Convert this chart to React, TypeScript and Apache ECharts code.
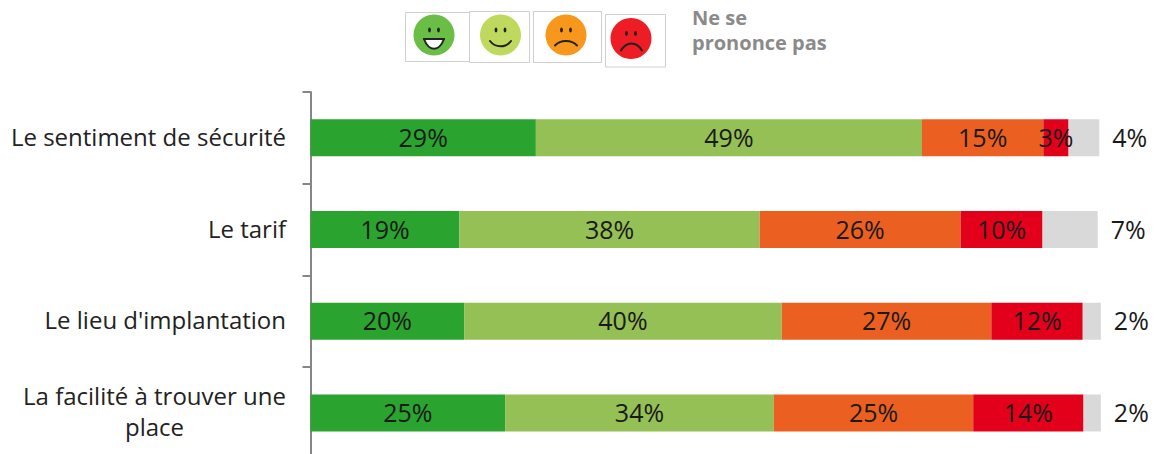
import React, { useEffect, useRef } from "react";
import * as echarts from "echarts";

const categories = ["Le sentiment de sécurité", "Le tarif", "Le lieu d'implantation", "La facilité à trouver une\nplace"];
const tresSatisfait = [28.6, 18.9, 19.5, 24.7];
const satisfait = [49.0, 38.1, 40.3, 34.1];
const peuSatisfait = [15.4, 25.5, 26.6, 25.3];
const pasSatisfait = [3.2, 10.4, 11.6, 14.0];
const neSePrononcePas = [3.9, 7.0, 2.3, 2.2];
const legendText = "Ne se\nprononce pas";

const FONT = "'Open Sans', sans-serif";
const pct = (p: any) => Math.round(p.value) + "%";

const box = (x: number, y: number, w: number, h: number) => ({
  type: "rect", shape: { x, y, width: w, height: h },
  style: { fill: "none", stroke: "#cfcfcf", lineWidth: 1 },
});
const eye = (cx: number, cy: number) => ({
  type: "ellipse", shape: { cx, cy, rx: 1.4, ry: 2.4 }, style: { fill: "#222" },
});
const face = (cx: number, cy: number, fill: string) => [
  { type: "circle", shape: { cx, cy, r: 20.5 }, style: { fill } },
  eye(cx - 4.5, cy - 5),
  eye(cx + 4.5, cy - 5),
];
const curve = (x1: number, x2: number, y: number, cpy: number, fill = "none") => ({
  type: "bezierCurve",
  shape: { x1, y1: y, x2, y2: y, cpx1: x1 + (x2 - x1) * 0.25, cpy1: cpy, cpx2: x1 + (x2 - x1) * 0.75, cpy2: cpy },
  style: { fill, stroke: "#222", lineWidth: 2, lineCap: "round" },
});

const graphics: any[] = [
  box(405.5, 12.5, 64, 49), box(469.5, 11.5, 60, 51), box(533.5, 11.5, 68, 51), box(605.5, 14.5, 60, 52.5),
  ...face(434, 35, "#6ABD45"),
  curve(424, 444, 39, 52, "#fff"),
  { type: "line", shape: { x1: 424, y1: 39, x2: 444, y2: 39 }, style: { stroke: "#222", lineWidth: 2, lineCap: "round" } },
  ...face(500.5, 35, "#BFD95F"),
  curve(490, 511, 41, 48),
  ...face(566, 35, "#F7981D"),
  curve(555, 577, 45.5, 39.5),
  ...face(631, 38.5, "#EE1C25"),
  curve(621, 642, 50.5, 41),
  {
    type: "text", x: 692, y: 5,
    style: { text: legendText, font: `bold 20px ${FONT}`, fill: "#8a8a8a", lineHeight: 25 },
  },
];

const names = ["Très satisfait", "Satisfait", "Peu satisfait", "Pas satisfait", "Ne se prononce pas"];
const values = [tresSatisfait, satisfait, peuSatisfait, pasSatisfait, neSePrononcePas];
const colors = ["#2AA32F", "#95C055", "#EB6020", "#E3001B", "#D9D9D9"];

export default function App() {
  const ref = useRef<HTMLDivElement>(null);
  useEffect(() => {
    document.body.style.margin = "0";
    const chart = echarts.init(ref.current!, null, { renderer: "svg" });
    chart.setOption({
      animation: false,
      grid: { left: 310.5, top: 92, width: 795.88, height: 366.8 },
      xAxis: { type: "value", min: 0, max: 101, show: false },
      yAxis: {
        type: "category", inverse: true, data: categories, offset: 1,
        axisLine: { show: true, lineStyle: { color: "#868686", width: 2 } },
        axisTick: { show: true, length: 8, alignWithLabel: false, lineStyle: { color: "#868686", width: 2 } },
        axisLabel: {
          margin: 23.5,
          formatter: (v: string) => v.split("\n").map((s) => `{c|${s}}`).join("\n"),
          rich: { c: { fontFamily: FONT, fontSize: 24, color: "#222", lineHeight: 31, align: "center", padding: [0, 0, 3, 0] } },
        },
      },
      graphic: graphics,
      series: names.map((name, i) => ({
        name, type: "bar", stack: "total", data: values[i], barWidth: 37,
        itemStyle: { color: colors[i] },
        label: {
          show: true, formatter: pct, fontFamily: FONT, fontSize: 25, color: "#1a1a1a",
          position: i === 4 ? "right" : "inside", distance: 13, offset: [0, -1],
        },
      })),
    });
    return () => chart.dispose();
  }, []);
  return (
    <div style={{ width: 1155, height: 454, overflow: "hidden" }}>
      <div ref={ref} style={{ width: 1155, height: 480 }} />
    </div>
  );
}
